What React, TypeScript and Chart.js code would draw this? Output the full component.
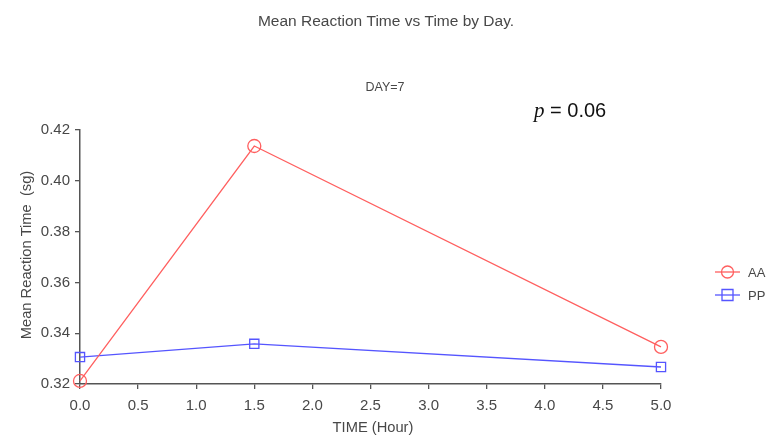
import React, { useEffect, useRef } from "react";
import { Chart, registerables } from "chart.js";

Chart.register(...registerables);

const timeHours = [0, 1.5, 5];
const aaValues = [0.3212, 0.4137, 0.3346];
const ppValues = [0.3306, 0.3358, 0.3267];
const seriesLabels = ["AA", "PP"];
const chartTitle = "Mean Reaction Time vs Time by Day.";
const subTitle = "DAY=7";
const pText = " = 0.06";
const xTitle = "TIME (Hour)";
const yTitle = "Mean Reaction Time  (sg)";

const RED = "rgb(255,95,95)";
const BLUE = "rgb(85,85,255)";
const AXIS = "#555";
const TEXT = "#484848";
const FONT = "'Liberation Sans', Arial, sans-serif";

export default function App() {
  const ref = useRef<HTMLCanvasElement | null>(null);
  useEffect(() => {
    document.body.style.margin = "0";
    const canvas = ref.current!;
    const overlay = {
      id: "overlay",
      afterDraw(chart: any) {
        const ctx = chart.ctx as CanvasRenderingContext2D;
        ctx.save();
        ctx.fillStyle = TEXT;
        ctx.textAlign = "center";
        ctx.textBaseline = "middle";
        ctx.font = `15.5px ${FONT}`;
        ctx.fillText(chartTitle, 386, 22);
        ctx.font = `12.5px ${FONT}`;
        ctx.fillText(subTitle, 385, 88);
        // p value
        ctx.fillStyle = "#111";
        ctx.textAlign = "left";
        ctx.textBaseline = "alphabetic";
        ctx.font = `italic 21px 'Liberation Serif', 'Times New Roman', serif`;
        ctx.fillText("p", 534, 117);
        const pw = ctx.measureText("p").width;
        ctx.font = `20px ${FONT}`;
        ctx.fillText(pText, 534 + pw, 117);
        // axis titles
        ctx.fillStyle = TEXT;
        ctx.font = `14.7px ${FONT}`;
        ctx.textAlign = "center";
        ctx.textBaseline = "middle";
        ctx.fillText(xTitle, 373, 428);
        ctx.save();
        ctx.translate(27, 255);
        ctx.rotate(-Math.PI / 2);
        ctx.fillText(yTitle, 0, 0);
        ctx.restore();
        // legend
        const items = [
          { label: seriesLabels[0], color: RED, shape: "circle", y: 272 },
          { label: seriesLabels[1], color: BLUE, shape: "rect", y: 295 },
        ];
        for (const it of items) {
          ctx.strokeStyle = it.color;
          ctx.lineWidth = 1.3;
          ctx.beginPath();
          ctx.moveTo(715, it.y);
          ctx.lineTo(740, it.y);
          ctx.stroke();
          ctx.beginPath();
          if (it.shape === "circle") ctx.arc(727.5, it.y, 6, 0, Math.PI * 2);
          else ctx.rect(722, it.y - 5.5, 11, 11);
          ctx.stroke();
          ctx.fillStyle = TEXT;
          ctx.textAlign = "left";
          ctx.font = `13px ${FONT}`;
          ctx.fillText(it.label, 748, it.y + 1);
        }
        ctx.restore();
      },
    };
    const chart = new Chart(canvas, {
      type: "line",
      data: {
        datasets: [
          {
            label: seriesLabels[0],
            data: timeHours.map((x, i) => ({ x, y: aaValues[i] })),
            borderColor: RED,
            backgroundColor: "rgba(0,0,0,0)",
            borderWidth: 1.3,
            pointStyle: "circle",
            pointRadius: 6.5,
            pointBorderWidth: 1.3,
            pointBorderColor: RED,
            pointBackgroundColor: "rgba(0,0,0,0)",
            clip: false as any,
          },
          {
            label: seriesLabels[1],
            data: timeHours.map((x, i) => ({ x, y: ppValues[i] })),
            borderColor: BLUE,
            backgroundColor: "rgba(0,0,0,0)",
            borderWidth: 1.3,
            pointStyle: "rect",
            pointRadius: 6.5,
            pointBorderWidth: 1.3,
            pointBorderColor: BLUE,
            pointBackgroundColor: "rgba(0,0,0,0)",
            clip: false as any,
          },
        ],
      },
      options: {
        animation: false,
        responsive: false,
        layout: { padding: { top: 130, right: 107, left: 0, bottom: 0 } },
        plugins: {
          legend: { display: false },
          title: { display: false },
          tooltip: { enabled: false },
        },
        scales: {
          x: {
            type: "linear",
            min: 0,
            max: 5,
            ticks: {
              stepSize: 0.5,
              color: TEXT,
              font: { size: 15, family: FONT },
              padding: 8,
              maxRotation: 0,
              callback: (v: any) => Number(v).toFixed(1),
            },
            grid: { display: true, drawOnChartArea: false, drawTicks: true, tickLength: 5, color: AXIS, lineWidth: 1.3 },
            border: { display: true, color: AXIS, width: 1.5 },
            afterFit: (s: any) => { s.height = 52; },
          },
          y: {
            type: "linear",
            min: 0.32,
            max: 0.42,
            ticks: {
              stepSize: 0.02,
              color: TEXT,
              font: { size: 15, family: FONT },
              padding: 5,
              callback: (v: any) => Number(v).toFixed(2),
            },
            grid: { display: true, drawOnChartArea: false, drawTicks: true, tickLength: 5, color: AXIS, lineWidth: 1.3 },
            border: { display: true, color: AXIS, width: 1.5 },
            afterFit: (s: any) => { s.width = 80; },
          },
        },
      },
      plugins: [overlay],
    });
    return () => chart.destroy();
  }, []);
  return <canvas ref={ref} width={768} height={436} style={{ display: "block", width: 768, height: 436 }} />;
}
